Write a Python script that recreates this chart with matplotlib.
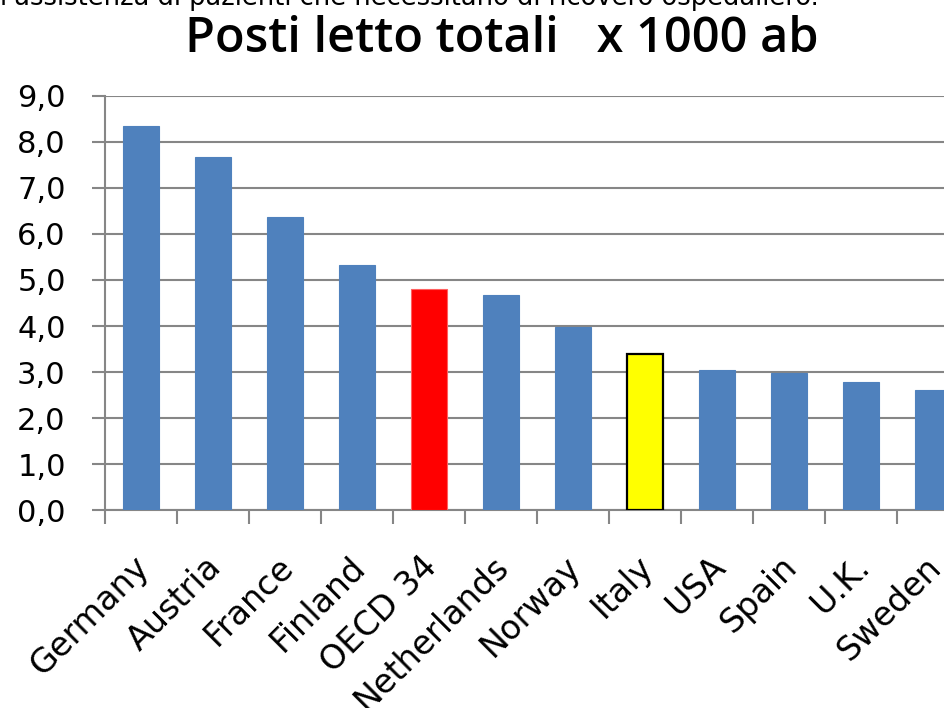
import numpy as np
import matplotlib
matplotlib.use("Agg")
import matplotlib.pyplot as plt
from matplotlib.ticker import FuncFormatter, FixedLocator

countries = ["Germany", "Austria", "France", "Finland", "OECD 34", "Netherlands",
             "Norway", "Italy", "USA", "Spain", "U.K.", "Sweden"]
beds = [8.35, 7.67, 6.37, 5.32, 4.80, 4.67, 3.98, 3.39, 3.05, 2.98, 2.79, 2.62]
yticks = [0, 1, 2, 3, 4, 5, 6, 7, 8, 9]

title = "Posti letto totali   x 1000 ab"
top_line = "l'assistenza di pazienti che necessitano di ricovero ospedaliero."

blue = "#4F81BD"
colors = [blue] * len(countries)
edges = [blue] * len(countries)
colors[4] = "#FF0000"
edges[4] = "#FF6060"
colors[7] = "#FFFF00"
edges[7] = "black"

def comma_fmt(x, pos):
    return "{0:.1f}".format(x).replace(".", ",")

fig = plt.figure(figsize=(9.44, 7.08), dpi=100)
ax = fig.add_axes([105.3 / 944, (708 - 510.3) / 708, 864 / 944, 414.6 / 708])

ind = np.arange(len(countries))
lw = [0.8] * len(countries)
lw[7] = 1.6
ax.bar(ind, beds, 0.5, color=colors, edgecolor=edges, linewidth=lw, zorder=3)

ax.set_xlim(-0.5, len(countries) - 0.5)
ax.set_ylim(0, 9)
ax.set_yticks(yticks)
ax.yaxis.set_major_formatter(FuncFormatter(comma_fmt))
ax.grid(True, axis="y", color="#868686", linewidth=1.5, zorder=0)

for s in ["top", "right"]:
    ax.spines[s].set_visible(False)
for s in ["left", "bottom"]:
    ax.spines[s].set_color("#868686")
    ax.spines[s].set_linewidth(1.5)

# x ticks between the categories, labels at category centres
ax.xaxis.set_major_locator(FixedLocator(np.arange(len(countries) + 1) - 0.5))
ax.xaxis.set_major_formatter(FuncFormatter(lambda x, p: ""))
ax.tick_params(axis="x", which="major", direction="out", length=10, width=1.5, color="#868686")
ax.tick_params(axis="y", which="major", direction="out", length=9.5, width=1.5, color="#868686",
               labelsize=22, pad=19)

for i, name in enumerate(countries):
    ax.annotate(name, xy=(i, 0), xycoords=("data", "axes fraction"),
                xytext=(2, -37), textcoords="offset points",
                rotation=45, ha="right", va="center", rotation_mode="anchor",
                fontsize=24, annotation_clip=False)

fig.text(502 / 944, 1 - 52 / 708, title, ha="center", va="baseline",
         fontsize=35, fontweight="semibold", family="Open Sans")
fig.text(0, 1 - 5 / 708, top_line, ha="left", va="baseline", fontsize=18.5)

fig.savefig("out.png", dpi=100)
